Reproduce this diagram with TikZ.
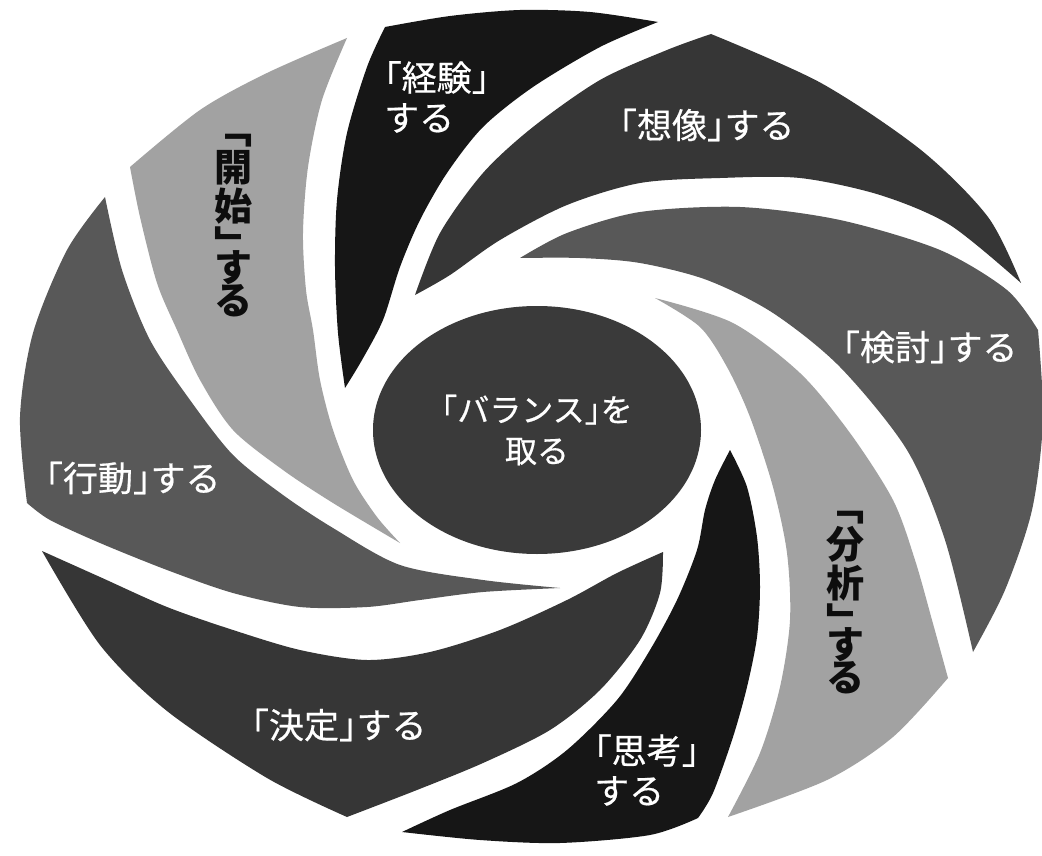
\documentclass[tikz,border=0pt]{standalone}
\usepackage{fontspec}
\usetikzlibrary{shapes.geometric}
\newfontfamily\jp[RawFeature=+halt,FakeBold=0.5]{Noto Sans CJK JP}
\newfontfamily\jpv{Noto Sans CJK JP}
\definecolor{cBlack}{HTML}{161616}
\definecolor{cDark}{HTML}{363636}
\definecolor{cMid}{HTML}{585858}
\definecolor{cLight}{HTML}{A2A2A2}
\definecolor{cCore}{HTML}{3A3A3A}
\tikzset{
  wlabel/.style={text=white, inner sep=0pt, font=\jp\fontsize{35}{40}\selectfont},
  vlabel/.style={text=black!95, inner sep=0pt, align=center, anchor=north, font=\jpv\bfseries\fontsize{38}{38}\selectfont},
}
\begin{document}
\begin{tikzpicture}[x=1pt,y=-1pt]
\fill[white] (0,0) rectangle (1042,856);
\useasboundingbox (0,0) rectangle (1042,856);

% 経験 (black, top)
\fill[cBlack] plot[smooth] coordinates {(385,27) (450,16) (520,10) (590,12) (658,22)}
  -- plot[smooth] coordinates {(658,22) (600,47) (533,87) (483,127) (447,173) (420,220) (400,267) (383,320) (362,360) (345,388)}
  -- plot[smooth] coordinates {(345,388) (338,333) (335,267) (337,200) (347,133) (367,67) (385,27)} -- cycle;

% 想像 (dark, top right)
\fill[cDark] plot[smooth] coordinates {(711,34) (821,83) (921,150) (988,217) (1021,283)}
  -- plot[smooth] coordinates {(1021,283) (950,225) (880,195) (800,178) (720,178) (640,183) (567,205) (500,240) (450,275) (415,295)}
  -- plot[smooth] coordinates {(415,295) (440,233) (483,173) (533,127) (600,80) (667,50) (711,34)} -- cycle;

% 検討 (mid, right)
\fill[cMid] plot[smooth] coordinates {(1038,330) (1043,420) (1032,510) (1005,590) (973,652)}
  -- plot[smooth] coordinates {(973,652) (945,540) (907,450) (840,367) (773,313) (707,280) (640,263) (580,258) (520,258)}
  -- plot[smooth] coordinates {(520,258) (567,233) (640,212) (740,207) (840,220) (940,250) (1007,290) (1038,330)} -- cycle;

% 分析 (light, lower right)
\fill[cLight] plot[smooth] coordinates {(948,678) (893,737) (827,780) (728,817)}
  -- plot[smooth] coordinates {(728,817) (760,753) (780,687) (790,620) (787,553) (773,487) (750,417) (727,367) (700,327) (655,298)}
  -- plot[smooth] coordinates {(655,298) (733,323) (800,373) (850,433) (893,500) (915,560) (932,620) (948,678)} -- cycle;

% 思考 (black, bottom)
\fill[cBlack] plot[smooth] coordinates {(698,818) (650,835) (560,843) (480,840) (402,832)}
  -- plot[smooth] coordinates {(402,832) (450,810) (517,783) (567,750) (617,700) (650,650) (677,600) (697,550) (705,510) (715,480) (730,450)}
  -- plot[smooth] coordinates {(730,450) (747,487) (757,537) (760,587) (757,637) (747,687) (733,737) (713,793) (698,818)} -- cycle;

% 決定 (dark, lower left)
\fill[cDark] plot[smooth] coordinates {(347,817) (267,778) (167,711) (100,645) (42,551)}
  -- plot[smooth] coordinates {(42,551) (100,577) (167,607) (233,630) (300,650) (367,660) (430,652) (500,630) (567,600) (617,573) (663,552)}
  -- plot[smooth] coordinates {(663,552) (660,593) (640,640) (600,690) (550,730) (483,763) (417,790) (347,817)} -- cycle;

% 行動 (mid, left)
\fill[cMid] plot[smooth] coordinates {(27,503) (20,417) (33,333) (67,250) (105,197)}
  -- plot[smooth] coordinates {(105,197) (122,270) (150,340) (190,400) (233,455) (283,495) (333,528) (400,565) (483,580) (560,588)}
  -- plot[smooth] coordinates {(560,588) (483,592) (420,600) (367,607) (300,607) (233,593) (167,570) (100,543) (50,520) (27,503)} -- cycle;

% 開始 (light, upper left)
\fill[cLight] plot[smooth] coordinates {(130,167) (200,110) (267,73) (347,38)}
  -- plot[smooth] coordinates {(347,38) (322,100) (308,167) (303,233) (306,290) (313,330) (320,380) (333,430) (353,480) (377,517) (400,543)}
  -- plot[smooth] coordinates {(400,543) (333,503) (283,470) (233,430) (200,380) (177,330) (157,283) (140,217) (130,167)} -- cycle;

% centre
\node[ellipse, fill=cCore, minimum width=328pt, minimum height=248pt, inner sep=0pt,
      text=white, align=center, font=\jp\fontsize{32}{41}\selectfont] (core) at (537,430)
      {「バランス」を\\取る};

% labels
\node[wlabel, anchor=west, align=left] (keiken) at (384,97) {「経験」\\する};
\node[wlabel] (souzou) at (707,125) {「想像」する};
\node[wlabel] (kentou) at (930,347) {「検討」する};
\node[wlabel] (kettei) at (339,725) {「決定」する};
\node[wlabel] (koudou) at (133,478) {「行動」する};
\node[wlabel, anchor=west, align=left] (shikou) at (594,770) {「思考」\\する};
\node[vlabel] (kaishi) at (233,134) {﹁\\[0pt]開\\[1pt]始\\[0pt]﹂\\[-15pt]す\\[-5pt]る};
\node[vlabel] (bunseki) at (845,511) {﹁\\[0pt]分\\[1pt]析\\[0pt]﹂\\[-15pt]す\\[-5pt]る};
\end{tikzpicture}
\end{document}
